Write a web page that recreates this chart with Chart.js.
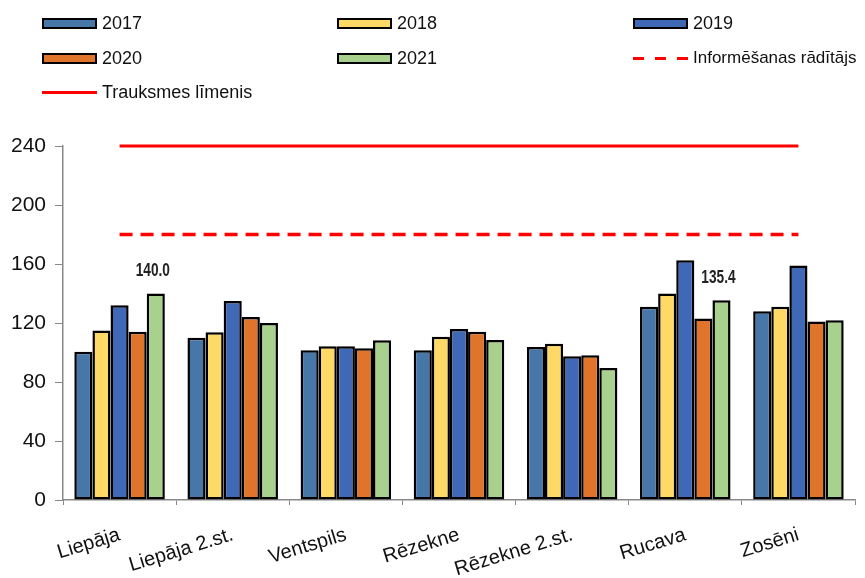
<!DOCTYPE html>
<html>
<head>
<meta charset="utf-8">
<script src="https://cdn.jsdelivr.net/npm/chart.js@4"></script>
<style>
  body { margin: 0; background: #fff; font-family: "Liberation Sans", Arial, sans-serif; }
  #wrap { position: relative; width: 865px; height: 578px; }
  #chart { position: absolute; left: 0; top: 0; }
  .item { position: absolute; height: 20px; display: flex; align-items: center; font-size: 18px; color: #111; white-space: nowrap; }
  .box { width: 51px; height: 7px; border: 2px solid #000; margin-right: 5px; }
  .line { width: 55px; height: 3px; margin-right: 5px; }
</style>
</head>
<body>
<div id="wrap">
  <canvas id="chart" width="865" height="578"></canvas>
  <div id="legend"></div>
</div>
<script>
  const categories = ["Liepāja", "Liepāja 2.st.", "Ventspils", "Rēzekne", "Rēzekne 2.st.", "Rucava", "Zosēni"];
  const v2017 = [100.5, 110, 101.5, 101.5, 103.7, 131, 128];
  const v2018 = [115, 113.7, 104.2, 110.7, 106, 140, 131];
  const v2019 = [132, 135, 104.2, 116, 97.4, 162.5, 159];
  const v2020 = [114, 124, 102.8, 114.1, 98.1, 123, 121];
  const v2021 = [140.0, 120, 108.3, 108.5, 89.5, 135.4, 121.8];
  const informLevel = [180, 180, 180, 180, 180, 180, 180];
  const alarmLevel = [240, 240, 240, 240, 240, 240, 240];
  // only two 2021 values are labelled in the original
  const labels2021 = ["140.0", null, null, null, null, "135.4", null];
  const yTicks = [0, 40, 80, 120, 160, 200, 240];

  const colors = ["#4677a8", "#ffd966", "#3f68b7", "#e0742b", "#a9d18e"];
  const years = ["2017", "2018", "2019", "2020", "2021"];
  const series = [v2017, v2018, v2019, v2020, v2021];

  // html legend, 3 columns
  const legend = document.querySelector("#legend");
  const cols = [42, 337, 633];
  const rows = [13, 48, 82];
  const items = years.map((y, i) => ({ text: y, kind: "box", color: colors[i] }));
  items.push({ text: "Informēšanas rādītājs", kind: "dash" });
  items.push({ text: "Trauksmes līmenis", kind: "solid" });
  items.forEach((it, i) => {
    const d = document.createElement("div");
    d.className = "item";
    d.style.left = cols[i % 3] + "px";
    d.style.top = rows[Math.floor(i / 3)] + "px";
    let mark;
    if (it.kind === "box") {
      mark = `<span class="box" style="background:${it.color}"></span>`;
    } else if (it.kind === "dash") {
      mark = `<span class="line" style="background:repeating-linear-gradient(to right,#ff0000 0 11px,transparent 11px 22px)"></span>`;
      d.style.fontSize = "17px";
    } else {
      mark = `<span class="line" style="background:#ff0000"></span>`;
    }
    d.innerHTML = mark + `<span>${it.text}</span>`;
    legend.appendChild(d);
  });

  const valueLabels = {
    id: "valueLabels",
    afterDatasetsDraw(chart) {
      const ctx = chart.ctx;
      const meta = chart.getDatasetMeta(4);
      labels2021.forEach((t, i) => {
        if (!t) return;
        const bar = meta.data[i];
        ctx.save();
        ctx.translate(bar.x - 3, bar.y - 13);
        ctx.scale(0.76, 1);
        ctx.font = 'bold 18px "Liberation Sans", Arial';
        ctx.fillStyle = "#222";
        ctx.textAlign = "center";
        ctx.textBaseline = "bottom";
        ctx.fillText(t, 0, 0);
        ctx.restore();
      });
    },
  };

  const barSets = series.map((data, i) => ({
    type: "bar",
    label: years[i],
    data: data,
    backgroundColor: colors[i],
    borderColor: "#000",
    borderWidth: 2.5,
    borderSkipped: false,
    categoryPercentage: 0.8,
    barPercentage: 1.0,
    order: 2,
  }));

  const lineSets = [
    { type: "line", label: "Informēšanas rādītājs", data: informLevel, borderColor: "#ff0000", borderWidth: 3.5, borderDash: [13, 8], pointRadius: 0, clip: false, order: 1 },
    { type: "line", label: "Trauksmes līmenis", data: alarmLevel, borderColor: "#ff0000", borderWidth: 3, pointRadius: 0, clip: false, order: 1 },
  ];

  new Chart(document.querySelector("#chart").getContext("2d"), {
    data: { labels: categories, datasets: [...barSets, ...lineSets] },
    options: {
      responsive: false,
      animation: false,
      layout: { padding: { top: 146, right: 10, left: 0, bottom: 0 } },
      plugins: { legend: { display: false }, tooltip: { enabled: false } },
      scales: {
        x: {
          offset: true,
          grid: { offset: true, drawOnChartArea: false, color: "#888", tickLength: 5 },
          border: { color: "#888", width: 1.5 },
          ticks: {
            minRotation: 17,
            maxRotation: 17,
            padding: 18,
            color: "#111",
            font: { family: '"Liberation Sans", Arial', size: 20 },
          },
          afterFit: (s) => { s.height = 78; },
        },
        y: {
          min: 0,
          max: 240,
          afterBuildTicks: (s) => { s.ticks = yTicks.map((v) => ({ value: v })); },
          grid: { drawOnChartArea: false, color: "#888", tickLength: 8 },
          border: { color: "#888", width: 1.5 },
          ticks: {
            padding: 9,
            color: "#111",
            font: { family: '"Liberation Sans", Arial', size: 21 },
          },
          afterFit: (s) => { s.width = 63; },
        },
      },
    },
    plugins: [valueLabels],
  });
</script>
</body>
</html>
